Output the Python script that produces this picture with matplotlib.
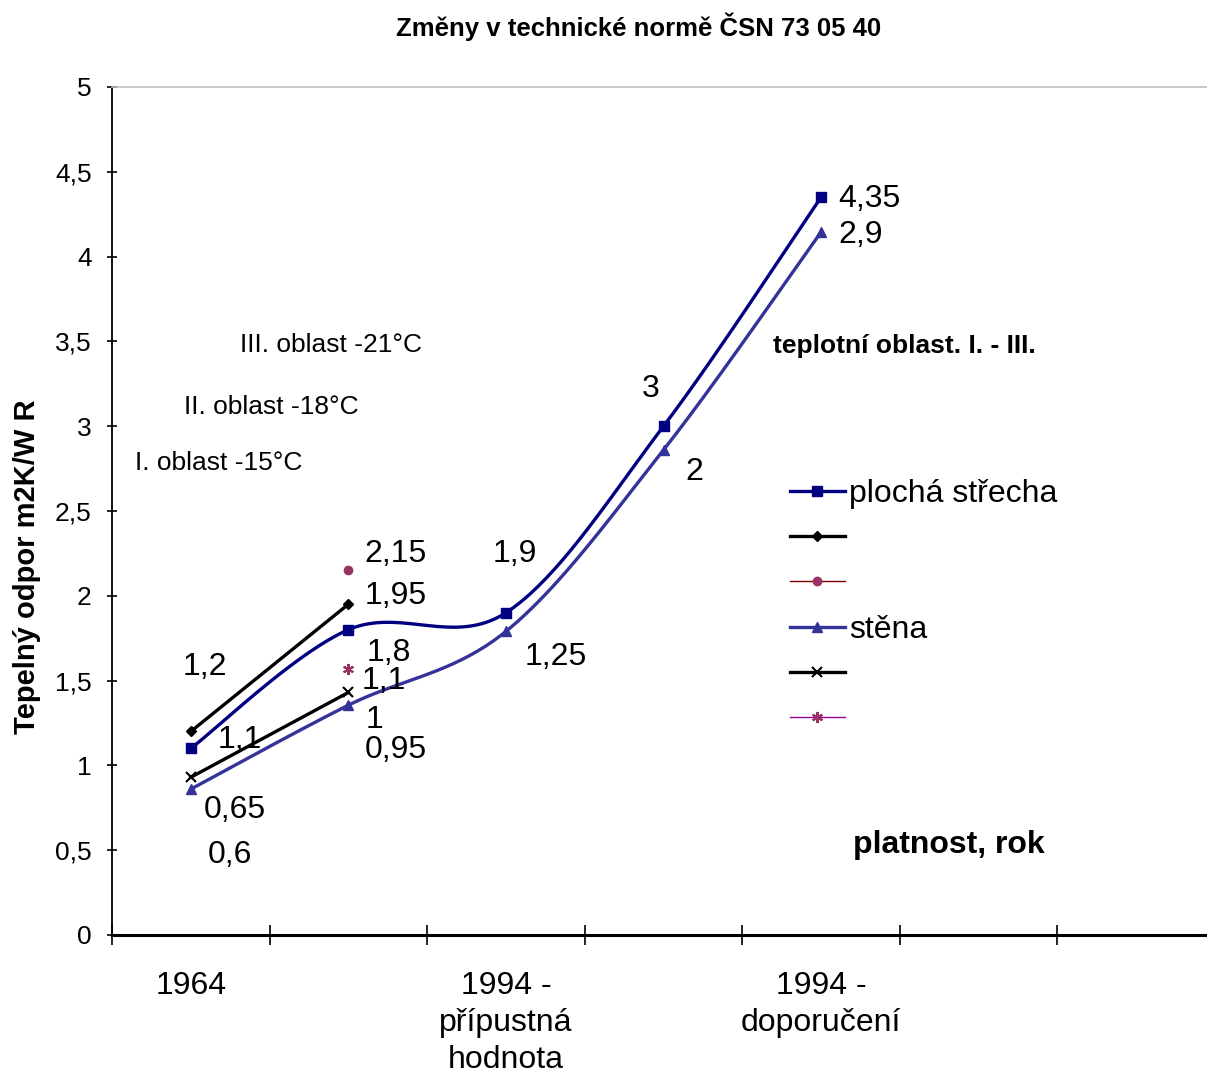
import numpy as np
import matplotlib
matplotlib.use("Agg")
import matplotlib.pyplot as plt
from matplotlib.lines import Line2D

plt.rcParams["font.family"] = ["Liberation Sans", "DejaVu Sans"]

# categories on the x axis (7 slots, only three carry a label)
categories = ["1964", "", "1994 -\npřípustná\nhodnota", "", "1994 -\ndoporučení", "", ""]

# series values (None = no point)
plocha = [1.1, 1.8, 1.9, 3.0, 4.35]
stena = [0.86, 1.355, 1.79, 2.86, 4.145]
diamond = [1.2, 1.95]
circle = [None, 2.15]
cross = [0.93, 1.43]
star = [None, 1.57]

# data label texts shown next to the points
plocha_lbl = ["1,1", "1,8", "1,9", "3", "4,35"]
stena_lbl = ["0,6", "0,95", "1,25", "2", "2,9"]
diamond_lbl = ["1,2", "1,95"]
circle_lbl = [None, "2,15"]
cross_lbl = ["0,65", "1"]
star_lbl = [None, "1,1"]


def excel_smooth(xs, ys, n=40):
    # bezier smoothing like Excel's "smoothed line"
    p = np.column_stack([xs, ys]).astype(float)
    out = []
    for i in range(len(p) - 1):
        p0 = p[max(i - 1, 0)]
        p1, p2 = p[i], p[i + 1]
        p3 = p[min(i + 2, len(p) - 1)]
        c1 = p1 + (p2 - p0) / 6
        c2 = p2 - (p3 - p1) / 6
        t = np.linspace(0, 1, n)[:, None]
        seg = (1 - t) ** 3 * p1 + 3 * (1 - t) ** 2 * t * c1 + 3 * (1 - t) * t ** 2 * c2 + t ** 3 * p2
        out.append(seg if i == 0 else seg[1:])
    seg = np.vstack(out)
    return seg[:, 0], seg[:, 1]


W, H = 1207, 1076
fig = plt.figure(figsize=(W / 100, H / 100), dpi=100)
ax = fig.add_axes([112 / W, 1 - 935 / H, (1215 - 112) / W, (935 - 87) / H])

NAVY = "#000080"
BLUE = "#333399"
LW = 2.4

sx, sy = excel_smooth(range(len(plocha)), plocha)
ax.plot(sx, sy, color=NAVY, lw=LW, solid_capstyle="round")
ax.plot(range(len(plocha)), plocha, ls="none", marker="s", ms=6.5, color=NAVY)

sx, sy = excel_smooth(range(len(stena)), stena)
ax.plot(sx, sy, color=BLUE, lw=LW, solid_capstyle="round")
ax.plot(range(len(stena)), stena, ls="none", marker="^", ms=6.5, color=BLUE)

ax.plot(range(len(diamond)), diamond, color="black", lw=LW, marker="D", ms=5)
ax.plot(range(len(cross)), cross, color="black", lw=LW, marker="x", ms=7, mew=1.5)
ax.plot([1], [circle[1]], ls="none", marker="o", ms=6, color="#993366")
ax.plot([1], [star[1]], ls="none", marker=(6, 2, 0), ms=8, mew=1.5, color="#993366")

# label offsets in pixels (dx, dy) from the point
offsets = {
    "plocha": [(49, 8), (40, -23), (9, 59), (-13, 37), (48, -2)],
    "stena": [(39, -66), (47, -45), (50, -26), (31, -22), (40, -3)],
    "diamond": [(14, 64), (47, 8)],
    "circle": [None, (47, 16)],
    "cross": [(44, -33), (26, -28)],
    "star": [None, (35, -12)],
}
for key, vals, lbls in [("plocha", plocha, plocha_lbl), ("stena", stena, stena_lbl),
                        ("diamond", diamond, diamond_lbl), ("circle", circle, circle_lbl),
                        ("cross", cross, cross_lbl), ("star", star, star_lbl)]:
    for i, (v, t) in enumerate(zip(vals, lbls)):
        if v is None or t is None:
            continue
        ax.annotate(t, (i, v), xytext=offsets[key][i], textcoords="offset pixels",
                    ha="center", va="center", fontsize=23)

ax.set_xlim(-0.5, len(categories) - 0.5)
ax.set_ylim(0, 5)
ax.set_yticks(np.arange(0, 5.01, 0.5))
ax.set_yticklabels([("%g" % v).replace(".", ",") for v in np.arange(0, 5.01, 0.5)], fontsize=19)
ax.tick_params(axis="y", direction="inout", length=7, width=1.2, pad=11)

ax.set_xticks(np.arange(-0.5, len(categories), 1))
ax.set_xticklabels([])
ax.set_xticks(range(len(categories)), minor=True)
ax.set_xticklabels(categories, minor=True, fontsize=23, linespacing=1.3, va="top")
ax.tick_params(axis="x", which="major", direction="inout", length=14, width=1.2)
ax.tick_params(axis="x", which="minor", length=0, pad=26)

ax.spines["right"].set_visible(False)
ax.spines["top"].set_color("#c0c0c0")
ax.spines["top"].set_linewidth(1.2)
ax.spines["bottom"].set_linewidth(2.2)
ax.spines["left"].set_linewidth(1.3)

fig.text(639 / W, 1 - 27 / H, "Změny v technické normě ČSN 73 05 40",
         ha="center", va="center", fontsize=18.5, fontweight="bold")
fig.text(27 / W, 1 - 567 / H, "Tepelný odpor m2K/W R", rotation=90,
         ha="center", va="center", fontsize=21, fontweight="bold")

fig.text(331 / W, 1 - 345 / H, "III. oblast -21°C", ha="center", va="center", fontsize=19)
fig.text(271 / W, 1 - 407 / H, "II. oblast -18°C", ha="center", va="center", fontsize=19)
fig.text(219 / W, 1 - 463 / H, "I. oblast -15°C", ha="center", va="center", fontsize=19)
fig.text(904 / W, 1 - 346 / H, "teplotní oblast. I. - III.", ha="center", va="center",
         fontsize=19, fontweight="bold")
fig.text(949 / W, 1 - 845 / H, "platnost, rok", ha="center", va="center",
         fontsize=23, fontweight="bold")

handles = [
    Line2D([], [], color=NAVY, lw=LW, marker="s", ms=6.5),
    Line2D([], [], color="black", lw=LW, marker="D", ms=5),
    Line2D([], [], color="#800000", lw=1, marker="o", ms=6, mfc="#993366", mec="#993366"),
    Line2D([], [], color=BLUE, lw=LW, marker="^", ms=6.5),
    Line2D([], [], color="black", lw=LW, marker="x", ms=7, mew=1.5),
    Line2D([], [], color="#990099", lw=1, marker=(6, 2, 0), ms=8, mew=1.5, mec="#993366"),
]
names = ["plochá střecha", "", "", "stěna", "", ""]
fig.legend(handles, names, loc="upper left", bbox_to_anchor=(790 / W, 1 - 479 / H),
           frameon=False, borderpad=0, borderaxespad=0, fontsize=23,
           handlelength=1.72, handletextpad=0.12, labelspacing=0.48)

fig.savefig("out.png", dpi=100)
